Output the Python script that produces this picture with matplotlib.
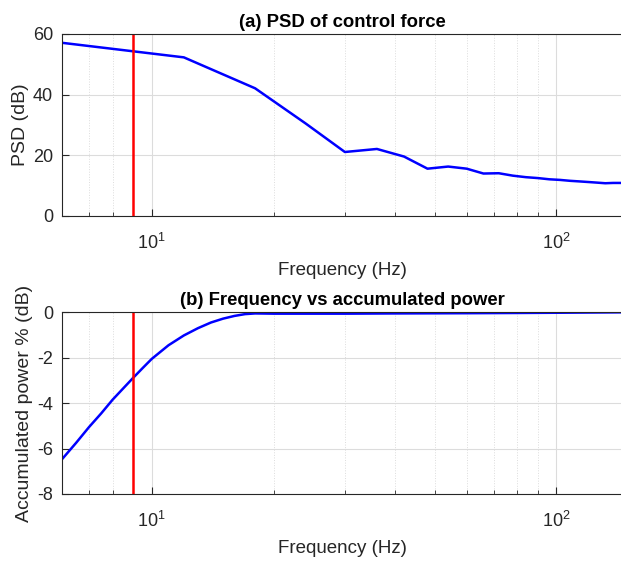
import numpy as np
import matplotlib
matplotlib.use('Agg')
import matplotlib.pyplot as plt
from matplotlib.ticker import LogLocator, NullFormatter

# PSD of control force, 6 Hz resolution
psd_freq = [6, 12, 18, 24, 30, 36, 42, 48, 54, 60, 66, 72, 78, 84, 90, 96,
            102, 108, 114, 120, 126, 132, 138, 144, 150]
psd_db = [57.1, 52.3, 42.1, 30.5, 21.1, 22.1, 19.6, 15.6, 16.3, 15.6, 14.0,
          14.1, 13.3, 12.8, 12.5, 12.1, 11.9, 11.6, 11.4, 11.2, 11.0, 10.8,
          10.9, 10.9, 10.9]

# accumulated power
acc_freq = [6, 6.5, 7, 7.5, 8, 8.5, 9, 9.5, 10, 11, 12, 13, 14, 15, 16, 17,
            18, 20, 25, 30, 40, 60, 80, 100, 150]
acc_db = [-6.47, -5.75, -5.05, -4.45, -3.85, -3.35, -2.88, -2.45, -2.05,
          -1.45, -1.02, -0.70, -0.45, -0.28, -0.16, -0.08, -0.05, -0.06,
          -0.06, -0.06, -0.05, -0.04, -0.03, -0.02, 0.0]

f_mark = 9.0
XMIN, XMAX = 6, 146

plt.rcParams['font.family'] = ['Liberation Sans', 'DejaVu Sans']
plt.rcParams['axes.unicode_minus'] = False
TXT = '#262626'

fig = plt.figure(figsize=(6.21, 5.61), dpi=100)
ax1 = fig.add_axes([62 / 621, 1 - 216 / 561, 561 / 621, 182 / 561])
ax2 = fig.add_axes([62 / 621, 1 - 494 / 561, 561 / 621, 181.7 / 561])


def style(ax):
    ax.set_xscale('log')
    ax.set_xlim(XMIN, XMAX)
    ax.xaxis.set_major_locator(LogLocator(base=10))
    ax.xaxis.set_minor_locator(LogLocator(base=10, subs=np.arange(2, 10)))
    ax.xaxis.set_minor_formatter(NullFormatter())
    ax.grid(True, which='major', color='#dcdcdc', linewidth=0.8, linestyle='-')
    ax.grid(True, which='minor', color='#dcdcdc', linewidth=0.7, linestyle=':')
    ax.set_axisbelow(True)
    ax.tick_params(which='both', direction='in', top=False, right=False,
                   colors=TXT, labelsize=13)
    ax.tick_params(axis='x', which='major', length=5, pad=12.5)
    ax.tick_params(axis='y', which='major', length=5, pad=6.5)
    ax.tick_params(which='minor', length=3)
    for s in ax.spines.values():
        s.set_color(TXT)
        s.set_linewidth(0.8)
    ax.set_xlabel('Frequency (Hz)', fontsize=13.5, color=TXT, labelpad=6)


ax1.plot(psd_freq, psd_db, color='#0000ff', linewidth=1.8)
ax1.axvline(f_mark, color='#ff0000', linewidth=1.8)
style(ax1)
ax1.set_ylim(0, 60)
ax1.set_yticks([0, 20, 40, 60])
ax1.set_ylabel('PSD (dB)', fontsize=14, color=TXT, labelpad=2.5)
ax1.set_title('(a) PSD of control force', fontsize=13.3, fontweight='bold',
              pad=5)

ax2.plot(acc_freq, acc_db, color='#0000ff', linewidth=1.8)
ax2.axvline(f_mark, color='#ff0000', linewidth=1.8)
style(ax2)
ax2.set_ylim(-8, 0)
ax2.set_yticks([-8, -6, -4, -2, 0])
ax2.set_ylabel('Accumulated power % (dB)', fontsize=14, color=TXT,
               labelpad=2.5)
ax2.set_title('(b) Frequency vs accumulated power', fontsize=13.3,
              fontweight='bold', pad=5)

fig.savefig('out.png', dpi=100)
